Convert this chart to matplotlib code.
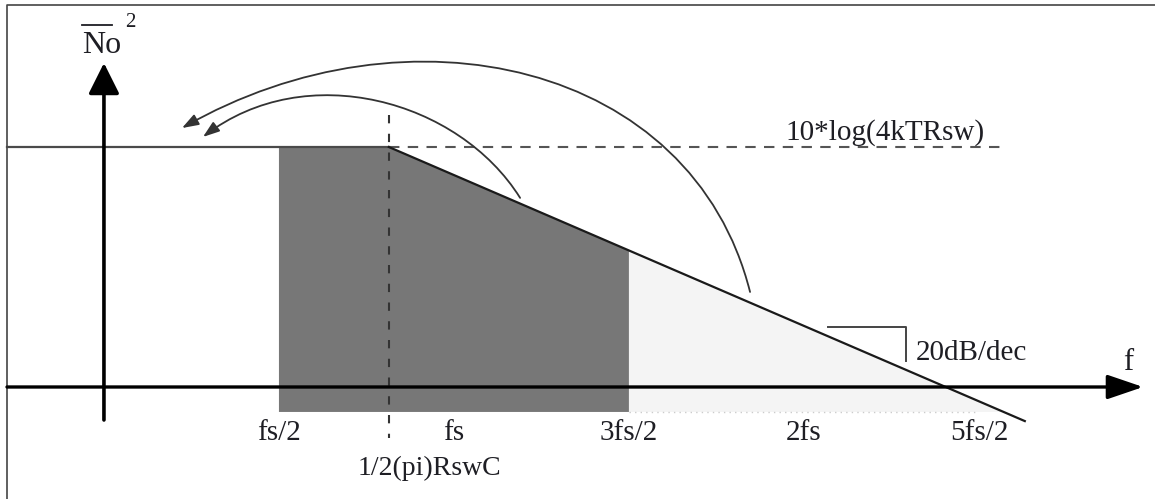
import numpy as np
import matplotlib
matplotlib.use("Agg")
import matplotlib.pyplot as plt
from matplotlib.patches import FancyArrowPatch, Polygon
from matplotlib.path import Path

# frequency in units of fs, level normalised so the flat 4kTRsw level = 1
pole_f = 0.814            # 1/2(pi)RswC
flat_level = 1.0
rolloff_f = [0.814, 2.631]
rolloff_level = [1.0, -0.142]
band_f = [0.5, 1.5]       # first nyquist band (dark)
floor_level = -0.104      # bottom of the shaded blocks
fold_end = 2.5

tick_f = [0.5, 1.0, 1.5, 2.0, 2.5]
tick_labels = ["fs/2", "fs", "3fs/2", "2fs", "5fs/2"]

# fold-back arcs (bezier control points, f / level)
outer_arc = [(1.846, 0.396), (1.68, 1.354), (0.869, 1.617), (0.223, 1.079)]
inner_arc = [(1.189, 0.788), (1.014, 1.196), (0.577, 1.371), (0.283, 1.042)]

slope_mark_f = [2.069, 2.291, 2.291]
slope_mark_level = [0.25, 0.25, 0.108]

serif = "Liberation Serif"
txt = "#1e1e24"

fig = plt.figure(figsize=(11.55, 4.99), dpi=100)
ax = fig.add_axes([0, 0, 1, 1])
ax.set_xlim(-0.297, 3.003)
ax.set_ylim(-0.4667, 1.6125)
ax.axis("off")

# frame (only left and top visible)
ax.plot([-0.277, -0.277, 3.1], [-0.6, 1.592, 1.592], color="#444444", lw=1.2)

# shaded regions
level_15 = np.interp(band_f[1], rolloff_f, rolloff_level)
f_floor = np.interp(floor_level, rolloff_level[::-1], rolloff_f[::-1])
dark = Polygon([(band_f[0], flat_level), (pole_f, flat_level), (band_f[1], level_15),
                (band_f[1], floor_level), (band_f[0], floor_level)],
               closed=True, facecolor="#777777", edgecolor="none", zorder=1)
light = Polygon([(band_f[1], level_15), (f_floor, floor_level), (band_f[1], floor_level)],
                closed=True, facecolor="#f4f4f4", edgecolor="none", zorder=1)
ax.add_patch(dark)
ax.add_patch(light)
ax.plot([band_f[1], fold_end], [floor_level, floor_level], color="#cccccc",
        lw=1.0, ls=(0, (1, 3)), zorder=1)

# spectrum
ax.plot([-0.277, pole_f], [flat_level, flat_level], color="#4a4a4a", lw=1.6, zorder=3)
ax.plot(rolloff_f, rolloff_level, color="#1a1a1a", lw=1.6, zorder=3)

# dashed guides
ax.plot([pole_f, 2.569], [flat_level, flat_level], color="#555555", lw=1.5,
        ls=(0, (5, 4)), zorder=2)
ax.plot([pole_f, pole_f], [1.133, -0.2125], color="#333333", lw=1.5,
        ls=(0, (4, 5)), zorder=2)

# axes with arrows
ax.add_patch(FancyArrowPatch((-0.277, 0), (2.969, 0),
                             arrowstyle="-|>,head_length=22,head_width=7.5",
                             mutation_scale=1, lw=2.4, color="black",
                             shrinkA=0, shrinkB=0, zorder=4))
ax.add_patch(FancyArrowPatch((0, -0.1375), (0, 1.35),
                             arrowstyle="-|>,head_length=19,head_width=9.5",
                             mutation_scale=1, lw=2.6, color="black",
                             shrinkA=0, shrinkB=0, zorder=4))

# fold-back arcs
codes = [Path.MOVETO, Path.CURVE4, Path.CURVE4, Path.CURVE4]
for arc in (outer_arc, inner_arc):
    ax.add_patch(FancyArrowPatch(path=Path(arc, codes),
                                 arrowstyle="-|>,head_length=10,head_width=3.5",
                                 mutation_scale=1, lw=1.3, color="#333333",
                                 shrinkA=0, shrinkB=0, zorder=3))

# 20 dB/dec marker
ax.plot(slope_mark_f, slope_mark_level, color="#444444", lw=1.4)

# texts
for f, lab in zip(tick_f, tick_labels):
    ax.text(f, -0.221, lab, ha="center", va="baseline", fontsize=21,
            family=serif, color=txt)
ax.text(0.726, -0.367, "1/2(pi)RswC", ha="left", va="baseline", fontsize=20,
        family=serif, color=txt)
ax.text(1.946, 1.029, "10*log(4kTRsw)", ha="left", va="baseline", fontsize=21,
        family=serif, color=txt)
ax.text(2.32, 0.1125, "20dB/dec", ha="left", va="baseline", fontsize=21,
        family=serif, color=txt)
ax.text(2.926, 0.071, "f", ha="center", va="baseline", fontsize=22,
        family=serif, color=txt)
ax.text(-0.063, 1.392, "No", ha="left", va="baseline", fontsize=23,
        family=serif, color=txt)
ax.plot([-0.063, 0.023], [1.508, 1.508], color=txt, lw=1.3)
ax.text(0.074, 1.5, "2", ha="center", va="baseline", fontsize=15,
        family=serif, color=txt)

fig.savefig("out.png", dpi=100)
